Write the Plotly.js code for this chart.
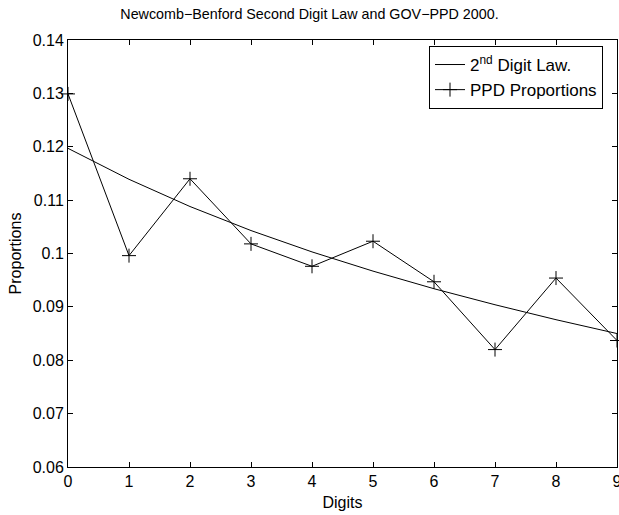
<!DOCTYPE html>
<html>
<head>
<meta charset="utf-8">
<script src="https://cdn.plot.ly/plotly-3.0.1.min.js"></script>
<style>html,body{margin:0;padding:0;background:#fff;}#chart{width:619px;height:515px;}</style>
</head>
<body>
<div id="chart"></div>
<script>
const digits = [0, 1, 2, 3, 4, 5, 6, 7, 8, 9];
const benfordSecond = [0.1197, 0.1139, 0.1088, 0.1043, 0.1003, 0.0967, 0.0934, 0.0904, 0.0876, 0.0850];
const ppdProportions = [0.1299, 0.0996, 0.1140, 0.1018, 0.0976, 0.1023, 0.0947, 0.0820, 0.0954, 0.0837];
const yTickVals = [0.06, 0.07, 0.08, 0.09, 0.1, 0.11, 0.12, 0.13, 0.14];
const yTickText = ['0.06', '0.07', '0.08', '0.09', '0.1', '0.11', '0.12', '0.13', '0.14'];
const xTickText = ['0', '1', '2', '3', '4', '5', '6', '7', '8', '9'];

const font = 'Liberation Sans, Arial, Helvetica, sans-serif';

const traces = [
  {
    x: digits, y: benfordSecond, type: 'scatter', mode: 'lines',
    name: '2<sup>nd</sup> Digit Law.',
    line: {color: '#000', width: 1}
  },
  {
    x: digits, y: ppdProportions, type: 'scatter', mode: 'lines+markers',
    name: 'PPD Proportions',
    line: {color: '#000', width: 1},
    marker: {symbol: 'cross-thin-open', size: 10, color: '#000', line: {color: '#000', width: 1}},
    cliponaxis: false
  }
];

const layout = {
  width: 619, height: 515,
  margin: {l: 68, r: 2, t: 40, b: 48},
  paper_bgcolor: '#fff', plot_bgcolor: '#fff',
  font: {family: font, size: 16, color: '#000'},
  title: {text: 'Newcomb\u2212Benford Second Digit Law and GOV\u2212PPD 2000.', font: {family: font, size: 14.3, color: '#000'}, x: 0.5, xanchor: 'center', y: 0.973, yanchor: 'middle'},
  showlegend: true,
  legend: {
    x: 0.9745, y: 0.986, xanchor: 'right', yanchor: 'top',
    bgcolor: '#fff', bordercolor: '#000', borderwidth: 1,
    font: {family: font, size: 17, color: '#000'},
    tracegroupgap: 0
  },
  xaxis: {
    range: [0, 9], tickvals: digits, ticktext: xTickText,
    ticks: 'inside', ticklen: 5, tickwidth: 1, tickcolor: '#000',
    showline: true, linecolor: '#000', linewidth: 1, mirror: 'ticks',
    showgrid: false, zeroline: false, ticklabeloverflow: 'allow',
    tickfont: {family: font, size: 16, color: '#000'},
    title: {text: 'Digits', font: {family: font, size: 16, color: '#000'}, standoff: 7}
  },
  yaxis: {
    range: [0.06, 0.14], tickvals: yTickVals, ticktext: yTickText,
    ticks: 'inside', ticklen: 5, tickwidth: 1, tickcolor: '#000',
    showline: true, linecolor: '#000', linewidth: 1, mirror: 'ticks',
    showgrid: false, zeroline: false, ticklabeloverflow: 'allow',
    tickfont: {family: font, size: 16, color: '#000'},
    title: {text: 'Proportions', font: {family: font, size: 16, color: '#000'}, standoff: 7}
  }
};

Plotly.newPlot('chart', traces, layout, {displayModeBar: false, staticPlot: true});
</script>
</body>
</html>
